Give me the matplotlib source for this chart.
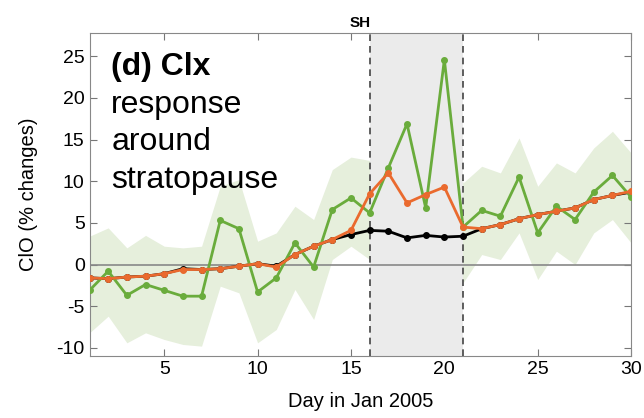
import numpy as np
import matplotlib
matplotlib.use("Agg")
import matplotlib.pyplot as plt

plt.rcParams['font.family'] = ['Liberation Sans', 'DejaVu Sans']
plt.rcParams['axes.unicode_minus'] = False

days = np.arange(1, 31)

# green: observed ClO response
obs = [-3.1, -0.8, -3.7, -2.4, -3.1, -3.8, -3.8, 5.3, 4.3, -3.3,
       -1.6, 2.6, -0.3, 6.6, 8.0, 6.2, 11.6, 16.9, 6.8, 24.6,
       4.5, 6.5, 5.8, 10.5, 3.8, 7.0, 5.4, 8.7, 10.7, 8.1]
obs_hi = [3.4, 4.4, 2.0, 3.5, 2.2, 2.0, 2.2, 9.4, 10.2, 2.8,
          3.8, 7.0, 5.4, 11.4, 12.9, 12.5, 17.5, 23.0, 13.0, 30.0,
          9.8, 11.8, 11.0, 15.2, 9.4, 12.2, 11.0, 14.0, 16.0, 13.4]
obs_lo = [-8.2, -6.2, -9.4, -8.2, -9.0, -9.6, -9.8, -2.6, -3.4, -9.4,
          -7.8, -3.0, -6.6, 0.6, 2.2, 0.6, 5.5, 11.0, 1.0, 18.5,
          -2.2, 1.2, 0.6, 3.8, -1.8, 1.6, 0.0, 3.8, 5.4, 2.6]
# orange: model with Clx perturbation
model_clx = [-1.6, -1.7, -1.5, -1.4, -1.1, -0.6, -0.6, -0.5, -0.2, 0.1,
             -0.3, 1.2, 2.2, 3.0, 4.1, 8.5, 11.0, 7.4, 8.4, 9.3,
             4.5, 4.3, 4.8, 5.5, 6.0, 6.4, 6.8, 7.8, 8.3, 8.8]
# black: model control
model_ctl = [-1.6, -1.7, -1.5, -1.4, -1.1, -0.5, -0.6, -0.5, -0.2, 0.1,
             -0.2, 1.2, 2.2, 3.0, 3.6, 4.1, 4.0, 3.2, 3.5, 3.3,
             3.4, 4.3, 4.8, 5.5, 6.0, 6.4, 6.8, 7.8, 8.3, 8.7]

event_start, event_end = 16, 21

fig = plt.figure(figsize=(6.44, 4.18), dpi=100)
ax = fig.add_axes([0.139, 0.148, 0.841, 0.773])

ax.fill_between(days, obs_lo, obs_hi, color='#e6efdc', lw=0, zorder=1)
ax.axvspan(event_start, event_end, color='#ebebeb', lw=0, zorder=2)
ax.axvline(event_start, color='#444444', ls=(0, (4, 3)), lw=1.2, zorder=3)
ax.axvline(event_end, color='#444444', ls=(0, (4, 3)), lw=1.2, zorder=3)
ax.axhline(0, color='#888888', lw=1.2, zorder=3)

ax.plot(days, model_ctl, '-o', color='black', lw=2, ms=4, zorder=4)
ax.plot(days, obs, '-o', color='#6aac3c', lw=2, ms=4, zorder=5)
ax.plot(days, model_clx, '-o', color='#ea6a2e', lw=2, ms=4, zorder=6)

ax.set_xlim(1, 30)
ax.set_ylim(-11, 27.8)
ax.set_xticks([5, 10, 15, 20, 25, 30])
ax.set_yticks([-10, -5, 0, 5, 10, 15, 20, 25])
ax.tick_params(direction='in', top=True, right=True, labelsize=14,
               color='#777777', length=5)
for s in ax.spines.values():
    s.set_color('#888888')

ax.set_xlabel('Day in Jan 2005', fontsize=14.5, labelpad=10)
ax.set_ylabel('ClO (% changes)', fontsize=14.5, labelpad=13)
ax.set_title('SH', fontsize=11, fontweight='bold', pad=4)

ax.text(0.04, 0.870, '(d) Clx', transform=ax.transAxes, fontsize=23,
        fontweight='bold', va='baseline', ha='left', zorder=7)
for yy, line in zip([0.752, 0.638, 0.520], ['response', 'around', 'stratopause']):
    ax.text(0.04, yy, line, transform=ax.transAxes, fontsize=23,
            va='baseline', ha='left', zorder=7)

fig.savefig('out.png', dpi=100)
